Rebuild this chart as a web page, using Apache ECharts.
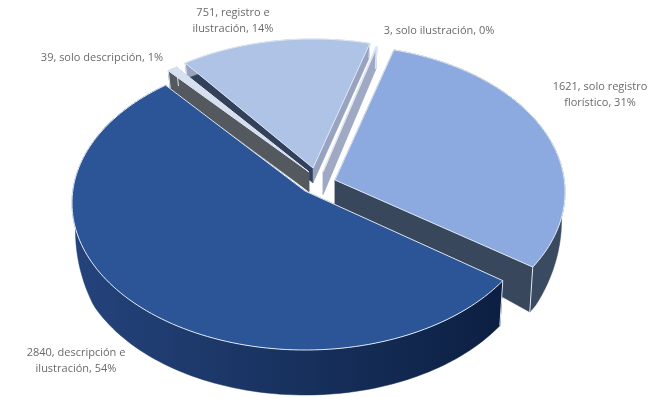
<!DOCTYPE html>
<html><head><meta charset="utf-8">
<style>html,body{margin:0;padding:0;background:#fff}#c{width:661px;height:399px}</style>
<script src="https://cdn.jsdelivr.net/npm/echarts@6/dist/echarts.min.js"></script>
</head><body><div id="c"></div>
<script>
// Data
const categories = ['solo registro\nflorístico', 'descripción e\nilustración', 'solo descripción', 'registro e\nilustración', 'solo ilustración'];
const values = [1621, 2840, 39, 751, 3];

// Layout / styling of the tilted pie (not data)
const startAngle = 14.5, tilt = 0.6, step = 1.5;
const ry = 147;
const layout = [
  {ax:335, ay:180, cx:335, cy:192, rx:230, rot:0.7, base:22, z:40, face:'#8caadf', startWall:'#38475c', endWall:'#38475c', rim:'#3a4a60', lx:600, ly:95},
  {ax:305, ay:191, cx:305, cy:203, rx:233, rot:1.5, base:18, z:50, face:'#2b5597', startWall:'#1a2c50', endWall:'#1a2c50',
    rim:{type:'linear',x:0,y:0,x2:1,y2:0,colorStops:[{offset:0,color:'#25437c'},{offset:.5,color:'#18325f'},{offset:1,color:'#0c1f42'}]}, lx:76, ly:361},
  {ax:309, ay:172, cx:309, cy:188, rx:233, rot:0, base:19, z:30, face:'#d6e0f0', startWall:'#54595f', endWall:'#54595f', rim:'#54595f', lx:102, ly:58},
  {ax:313, ay:168, cx:313, cy:186, rx:233, rot:1, base:15, z:10, face:'#afc3e6', startWall:'#33405a', endWall:'#98a3c0', rim:'#98a3c0', lx:233, ly:21},
  {ax:323, ay:172, cx:323, cy:190, rx:233, rot:0, base:22, z:20, face:'#c5d2ea', startWall:'#a0a9c4', endWall:'#a0a9c4', rim:'#a0a9c4', lx:439, ly:31}
];
const edge = '#dfe8f5';
const total = values.reduce((a, b) => a + b, 0);
const starts = [];
values.reduce((acc, v, i) => { starts[i] = acc; return acc + v / total * 360; }, startAngle);

function rimPoint(L, deg) {
  const t = deg * Math.PI / 180, dx = Math.sin(t), dy = -tilt * Math.cos(t);
  const ox = (L.ax - L.cx) / L.rx, oy = (L.ay - L.cy) / ry, ux = dx / L.rx, uy = dy / ry;
  const a = ux * ux + uy * uy, b = 2 * (ox * ux + oy * uy), c = ox * ox + oy * oy - 1;
  const s = (-b + Math.sqrt(b * b - 4 * a * c)) / (2 * a);
  return [L.ax + s * dx, L.ay + s * dy];
}
function drop(L, p) {
  const k = Math.max(0, Math.min(1, (p[1] - 170) / 90));
  const h = L.base + (45 - L.base) * k;
  return [p[0] - (p[0] - L.cx) * 0.015, p[1] + h];
}

function renderItem(params, api) {
  const i = params.dataIndex, L = layout[i], v = api.value(0);
  const a0 = starts[i] + L.rot, sweep = v / total * 360;
  const n = Math.max(1, Math.ceil(sweep / step));
  const rim = [];
  for (let k = 0; k <= n; k++) rim.push(rimPoint(L, a0 + sweep * k / n));
  const low = rim.map(p => drop(L, p));
  const A = [L.ax, L.ay], B = drop(L, A);
  const first = rim[0], last = rim[n];
  const poly = (pts, fill, z2, stroke, w) => ({
    type:'polygon', z2, shape:{points:pts},
    style:{fill, stroke:stroke || fill, lineWidth:w === undefined ? 0.5 : w, lineJoin:'round'}
  });
  const line = (p, q, z2) => ({type:'line', z2, shape:{x1:p[0],y1:p[1],x2:q[0],y2:q[1]}, style:{stroke:edge, lineWidth:1}});
  const z = L.z;
  const pct = Math.round(v / total * 100);
  const parts = (v + ', ' + categories[i] + ', ' + pct + '%');
  return {
    type:'group',
    children:[
      poly([A, first, low[0], B], L.startWall, z),
      poly([A, last, low[n], B], L.endWall, z),
      poly(rim.concat(low.slice().reverse()), L.rim, z + 1),
      line(first, low[0], z + 2),
      line(last, low[n], z + 2),
      poly([A].concat(rim), L.face, z + 3, edge, 1),
      {type:'text', z2:100, style:{text:parts, x:L.lx, y:L.ly, align:'center', verticalAlign:'middle',
        fill:'#6a6a6a', fontFamily:'"Open Sans"', fontSize:11, lineHeight:16}}
    ]
  };
}

const chart = echarts.init(document.getElementById('c'), null, {renderer:'canvas'});
chart.setOption({
  animation:false,
  backgroundColor:'#fff',
  series:[{type:'custom', coordinateSystem:'none', renderItem, data:values.map(v => [v]), silent:true}]
});
</script></body></html>
